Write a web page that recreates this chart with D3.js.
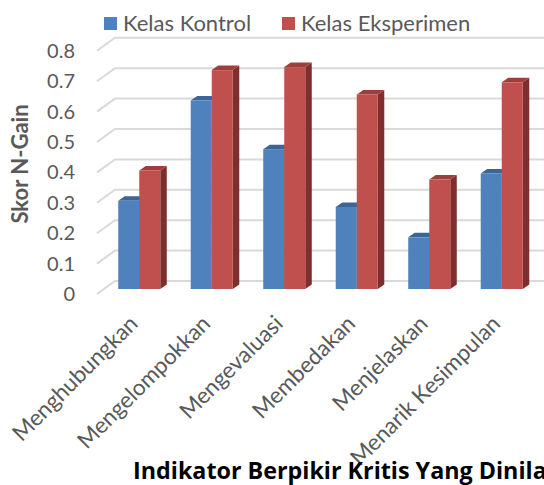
<!DOCTYPE html>
<html>
<head>
<meta charset="utf-8">
<script src="https://cdn.jsdelivr.net/npm/d3@7"></script>
<style>
  body { margin: 0; background: #fff; }
  svg { display: block; font-family: Lato, "Open Sans", sans-serif; }
  .axis text { fill: #595959; }
</style>
</head>
<body>
<div id="chart"></div>
<script>
const categories = ["Menghubungkan", "Mengelompokkan", "Mengevaluasi", "Membedakan", "Menjelaskan", "Menarik Kesimpulan"];
const seriesNames = ["Kelas Kontrol", "Kelas Eksperimen"];
const kontrolValues = [0.29, 0.62, 0.46, 0.27, 0.17, 0.38];
const eksperimenValues = [0.39, 0.72, 0.73, 0.64, 0.36, 0.68];
const yTicks = [0, 0.1, 0.2, 0.3, 0.4, 0.5, 0.6, 0.7, 0.8];

const colors = {
  "Kelas Kontrol": { front: "#4f81bd", top: "#3c6597", side: "#2f5282" },
  "Kelas Eksperimen": { front: "#c0504d", top: "#9f3f3c", side: "#7e2f2d" }
};

const width = 544;
const height = 485;

// 3d offsets: back wall, bar front face, bar depth
const wall = { dx: 18, dy: -13 };
const face = { dx: 7, dy: -5 };
const depth = { dx: 6.5, dy: -4.5 };

const svg = d3.select("#chart")
  .append("svg")
  .attr("width", width)
  .attr("height", height);

const x = d3.scaleBand()
  .domain(categories)
  .range([96, 531])
  .paddingInner(0.42)
  .paddingOuter(0.21);

const xs = d3.scaleBand()
  .domain(seriesNames)
  .range([0, x.bandwidth()]);

const y = d3.scaleLinear()
  .domain([0, 0.8])
  .range([294, 50.8]);

// gridlines on side wall + back wall
svg.append("g")
  .selectAll("path")
  .data(yTicks)
  .join("path")
  .attr("d", (d) => {
    const x0 = x.range()[0] + 1;
    const y0 = y(d);
    return `M${x0},${y0}L${x0 + wall.dx},${y0 + wall.dy}L${width + 10},${y0 + wall.dy}`;
  })
  .attr("fill", "none")
  .attr("stroke", "#d9d9d9")
  .attr("stroke-width", 2);

// bars
const rows = categories.map((c, i) => ({
  label: c,
  values: [
    { key: seriesNames[0], value: kontrolValues[i] },
    { key: seriesNames[1], value: eksperimenValues[i] }
  ]
}));

const bars = svg.append("g")
  .selectAll("g")
  .data(rows)
  .join("g")
  .selectAll("g")
  .data((d) => d.values.map((v) => ({ ...v, label: d.label })))
  .join("g");

function barGeom(d) {
  const x0 = x(d.label) + xs(d.key) + face.dx;
  const x1 = x0 + xs.bandwidth();
  const yb = y(0) + face.dy;
  const yt = y(d.value) + face.dy;
  return { x0, x1, yb, yt };
}

bars.append("path")
  .attr("fill", (d) => colors[d.key].side)
  .attr("d", (d) => {
    const g = barGeom(d);
    return `M${g.x1},${g.yb}L${g.x1 + depth.dx},${g.yb + depth.dy}L${g.x1 + depth.dx},${g.yt + depth.dy}L${g.x1},${g.yt}Z`;
  });

bars.append("path")
  .attr("fill", (d) => colors[d.key].top)
  .attr("d", (d) => {
    const g = barGeom(d);
    return `M${g.x0},${g.yt}L${g.x1},${g.yt}L${g.x1 + depth.dx},${g.yt + depth.dy}L${g.x0 + depth.dx},${g.yt + depth.dy}Z`;
  });

bars.append("rect")
  .attr("fill", (d) => colors[d.key].front)
  .attr("x", (d) => barGeom(d).x0)
  .attr("y", (d) => barGeom(d).yt)
  .attr("width", xs.bandwidth())
  .attr("height", (d) => barGeom(d).yb - barGeom(d).yt);

// y axis labels
const yAxis = svg.append("g")
  .attr("class", "axis")
  .attr("transform", "translate(80,0)")
  .call(d3.axisLeft(y).tickValues(yTicks).tickSize(0).tickPadding(5)
    .tickFormat((d) => (d === 0 ? "0" : d.toFixed(1))));
yAxis.select(".domain").remove();
yAxis.selectAll("text")
  .attr("font-size", 20)
  .attr("font-family", "Lato, sans-serif");

// x axis labels, rotated
const xAxis = svg.append("g")
  .attr("class", "axis")
  .attr("transform", `translate(0,${y(0)})`)
  .call(d3.axisBottom(x).tickSize(0));
xAxis.select(".domain").remove();
xAxis.selectAll("text")
  .attr("x", 0)
  .attr("y", 0)
  .attr("dy", 0)
  .attr("text-anchor", "end")
  .attr("transform", "translate(7,31) rotate(-45)")
  .attr("font-size", 22.5)
  .attr("font-family", "Lato, sans-serif");

// axis titles
svg.append("text")
  .attr("transform", "translate(28,164) rotate(-90)")
  .attr("text-anchor", "middle")
  .attr("font-size", 22)
  .attr("font-weight", "bold")
  .attr("fill", "#595959")
  .text("Skor N-Gain");

svg.append("text")
  .attr("x", 133)
  .attr("y", 479)
  .attr("font-size", 23.3)
  .attr("font-weight", "bold")
  .attr("font-family", "'Open Sans', sans-serif")
  .attr("fill", "#000")
  .text("Indikator Berpikir Kritis Yang Dinilai");

// legend
const legendX = [104, 282];
const legend = svg.append("g")
  .selectAll("g")
  .data(seriesNames)
  .join("g")
  .attr("transform", (d, i) => `translate(${legendX[i]},0)`);

legend.append("rect")
  .attr("x", 0)
  .attr("y", 17)
  .attr("width", 13)
  .attr("height", 13)
  .attr("fill", (d) => colors[d].front);

legend.append("text")
  .attr("x", 19)
  .attr("y", 31)
  .attr("font-size", 22)
  .attr("fill", "#595959")
  .text((d) => d);
</script>
</body>
</html>
